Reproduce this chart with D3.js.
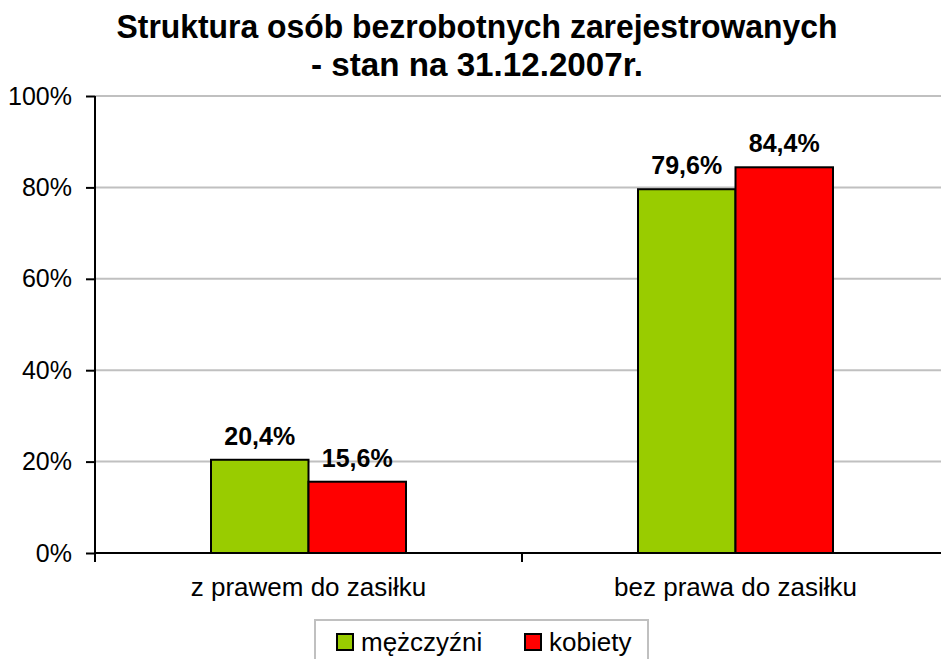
<!DOCTYPE html>
<html>
<head>
<meta charset="utf-8">
<script src="https://cdn.jsdelivr.net/npm/d3@7"></script>
<style>
  body { margin: 0; background: #fff; }
  svg { display: block; }
  text { font-family: "Liberation Sans", Arial, sans-serif; }
</style>
</head>
<body>
<svg id="chart" width="941" height="659"></svg>
<script>
// dane
var categories = ["z prawem do zasiłku", "bez prawa do zasiłku"];
var seriesNames = ["mężczyźni", "kobiety"];
var men = [20.4, 79.6];
var women = [15.6, 84.4];
var yTicks = [0, 20, 40, 60, 80, 100];
var colors = ["#99cc00", "#ff0000"];

var svg = d3.select("#chart");
var margin = { left: 95, top: 96, bottom: 553, right: 949 };

var x = d3.scaleBand().domain(categories).range([margin.left, margin.right]);
var xs = d3.scaleBand().domain(seriesNames).range([0, 195]);
var y = d3.scaleLinear().domain([0, 100]).range([margin.bottom, margin.top]);

// tytuł (wąski krój - ściśnięty przez textLength)
var title = svg.append("text")
  .attr("text-anchor", "middle")
  .style("font-weight", "bold").style("font-size", "33px");
title.append("tspan").attr("x", 477).attr("y", 38)
  .attr("textLength", 721).attr("lengthAdjust", "spacingAndGlyphs")
  .text("Struktura osób bezrobotnych zarejestrowanych");
title.append("tspan").attr("x", 477).attr("y", 76)
  .attr("textLength", 332).attr("lengthAdjust", "spacingAndGlyphs")
  .text("- stan na 31.12.2007r.");

// siatka
svg.append("g").selectAll("line")
  .data(yTicks.filter(d => d > 0))
  .join("line")
  .attr("x1", margin.left).attr("x2", 941)
  .attr("y1", d => y(d)).attr("y2", d => y(d))
  .attr("stroke", "#c0c0c0").attr("stroke-width", 2);

// słupki
var data = categories.map((c, i) => [
  { cat: c, s: seriesNames[0], v: men[i], col: colors[0] },
  { cat: c, s: seriesNames[1], v: women[i], col: colors[1] }
]).flat();

svg.append("g").selectAll("rect")
  .data(data)
  .join("rect")
  .attr("x", d => x(d.cat) + (x.bandwidth() - 195) / 2 + xs(d.s))
  .attr("y", d => y(d.v))
  .attr("width", xs.bandwidth())
  .attr("height", d => y(0) - y(d.v))
  .attr("fill", d => d.col)
  .attr("stroke", "#000").attr("stroke-width", 2);

svg.append("g").selectAll("text")
  .data(data)
  .join("text")
  .attr("x", d => x(d.cat) + (x.bandwidth() - 195) / 2 + xs(d.s) + xs.bandwidth() / 2)
  .attr("y", d => y(d.v) - 15)
  .attr("text-anchor", "middle")
  .style("font-weight", "bold").style("font-size", "25px")
  .text(d => d.v.toFixed(1).replace(".", ",") + "%");

// osie
var yAxis = svg.append("g")
  .attr("transform", "translate(" + margin.left + ",0)")
  .call(d3.axisLeft(y).tickValues(yTicks).tickFormat(d => d + "%").tickSize(9).tickPadding(14));
yAxis.select(".domain").attr("stroke-width", 2).attr("d", "M0," + margin.top + "V" + (margin.bottom + 9));
yAxis.selectAll(".tick line").attr("stroke-width", 2);
yAxis.selectAll("text").style("font-size", "25px").attr("fill", "#000");

var xAxis = svg.append("g")
  .attr("transform", "translate(0," + margin.bottom + ")");
xAxis.append("line").attr("x1", margin.left).attr("x2", 941)
  .attr("stroke", "#000").attr("stroke-width", 2);
xAxis.selectAll(".sep")
  .data(categories.slice(1))
  .join("line")
  .attr("x1", d => x(d)).attr("x2", d => x(d))
  .attr("y1", 0).attr("y2", 9)
  .attr("stroke", "#000").attr("stroke-width", 2);
xAxis.selectAll(".lab")
  .data(categories)
  .join("text")
  .attr("x", d => x(d) + x.bandwidth() / 2)
  .attr("y", 43)
  .attr("text-anchor", "middle")
  .style("font-size", "26px")
  .text(d => d);

// legenda
var lg = svg.append("g");
lg.append("rect").attr("x", 315).attr("y", 620).attr("width", 333).attr("height", 50)
  .attr("fill", "#fff").attr("stroke", "#c0c0c0").attr("stroke-width", 2);
var lx = [337, 525];
seriesNames.forEach((s, i) => {
  lg.append("rect").attr("x", lx[i]).attr("y", 634).attr("width", 16).attr("height", 16)
    .attr("fill", colors[i]).attr("stroke", "#000").attr("stroke-width", 2);
  lg.append("text").attr("x", lx[i] + 24).attr("y", 651)
    .style("font-size", "26px").text(s);
});
</script>
</body>
</html>
